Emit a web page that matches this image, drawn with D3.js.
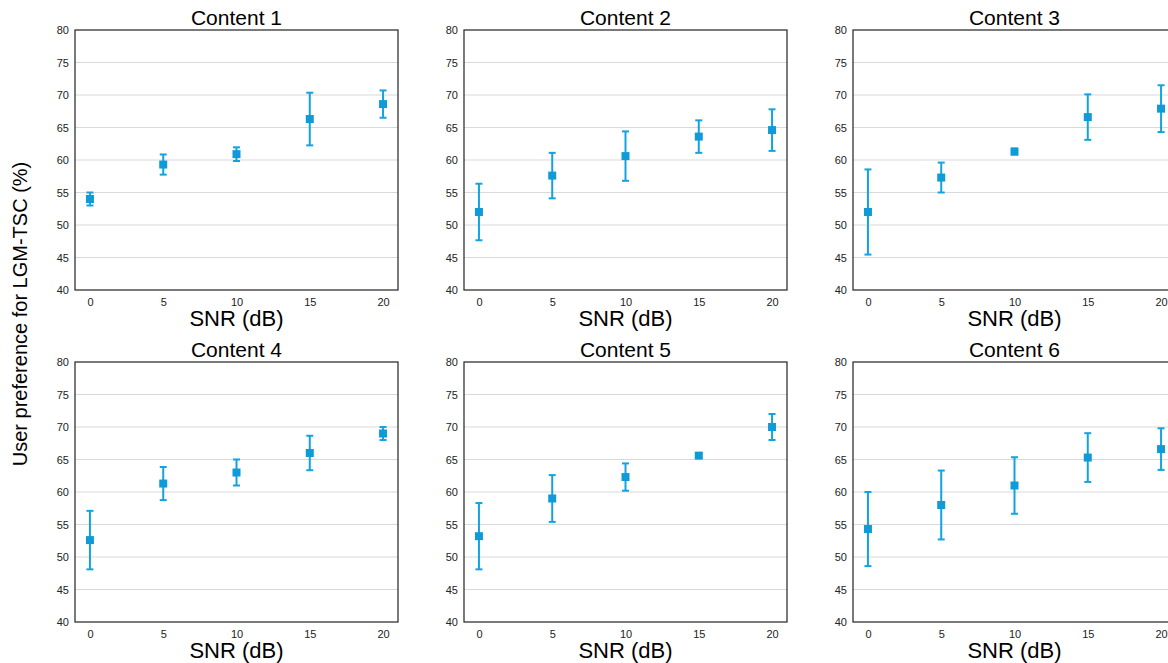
<!DOCTYPE html>
<html>
<head>
<meta charset="utf-8">
<script src="https://cdn.jsdelivr.net/npm/d3@7"></script>
<style>
  body { margin: 0; background: #fff; }
  svg { display: block; font-family: "Liberation Sans", Arial, sans-serif; }
</style>
</head>
<body>
<div id="chart"></div>
<script>
// SNR levels and tick labels
const snr = [0, 5, 10, 15, 20];
const yTicks = [40, 45, 50, 55, 60, 65, 70, 75, 80];
const titles = ["Content 1", "Content 2", "Content 3", "Content 4", "Content 5", "Content 6"];

// mean preference per content (%)
const content1 = [54.0, 59.3, 60.9, 66.3, 68.6];
const content2 = [52.0, 57.6, 60.6, 63.6, 64.6];
const content3 = [52.0, 57.3, 61.3, 66.6, 67.9];
const content4 = [52.6, 61.3, 63.0, 66.0, 69.0];
const content5 = [53.2, 59.0, 62.3, 65.6, 70.0];
const content6 = [54.3, 58.0, 61.0, 65.3, 66.6];

// half-width of error bars
const err1 = [1.0, 1.55, 1.05, 4.05, 2.1];
const err2 = [4.35, 3.5, 3.8, 2.5, 3.2];
const err3 = [6.55, 2.3, 0.45, 3.5, 3.6];
const err4 = [4.5, 2.55, 2.0, 2.65, 1.0];
const err5 = [5.1, 3.6, 2.1, 0.35, 2.0];
const err6 = [5.7, 5.3, 4.35, 3.75, 3.2];

const means = [content1, content2, content3, content4, content5, content6];
const errs = [err1, err2, err3, err4, err5, err6];

const W = 1168, H = 663;
const pw = 323, ph = 260;
const lefts = [75, 464, 853];
const tops = [30, 362];
const blue = "#0f9bd7";

const svg = d3.select("#chart").append("svg")
  .attr("width", W).attr("height", H);

const x = d3.scaleLinear().domain([-1.02, 21.02]).range([0, pw]);
const y = d3.scaleLinear().domain([40, 80]).range([ph, 0]);

titles.forEach((t, i) => {
  const col = i % 3, row = Math.floor(i / 3);
  const g = svg.append("g")
    .attr("transform", `translate(${lefts[col]},${tops[row]})`);

  // grid
  g.append("g")
    .selectAll("line")
    .data(yTicks.filter(v => v > 40 && v < 80))
    .join("line")
    .attr("x1", 0).attr("x2", pw)
    .attr("y1", d => y(d)).attr("y2", d => y(d))
    .attr("stroke", "#d9d9d9").attr("stroke-width", 1);

  // y axis labels
  const ya = g.append("g").call(d3.axisLeft(y).tickValues(yTicks).tickSize(0).tickPadding(6));
  ya.select(".domain").remove();
  ya.selectAll("text").attr("font-size", 11).attr("fill", "#222")
    .attr("font-family", "Liberation Sans, Arial, sans-serif");

  // x axis labels
  const xa = g.append("g").attr("transform", `translate(0,${ph})`)
    .call(d3.axisBottom(x).tickValues(snr).tickSize(0).tickPadding(8));
  xa.select(".domain").remove();
  xa.selectAll("text").attr("font-size", 11).attr("fill", "#222")
    .attr("font-family", "Liberation Sans, Arial, sans-serif");

  // frame
  g.append("rect")
    .attr("x", 0).attr("y", 0).attr("width", pw).attr("height", ph)
    .attr("fill", "none").attr("stroke", "#222").attr("stroke-width", 1.2);

  const pts = snr.map((s, j) => ({ s, m: means[i][j], e: errs[i][j] }));

  // error bars
  const eb = g.append("g").attr("stroke", "#13a3e2").attr("stroke-width", 2);
  eb.selectAll("line.v").data(pts).join("line").attr("class", "v")
    .attr("x1", d => x(d.s)).attr("x2", d => x(d.s))
    .attr("y1", d => y(d.m + d.e)).attr("y2", d => y(d.m - d.e));
  eb.selectAll("line.t").data(pts).join("line").attr("class", "t")
    .attr("x1", d => x(d.s) - 3.5).attr("x2", d => x(d.s) + 3.5)
    .attr("y1", d => y(d.m + d.e)).attr("y2", d => y(d.m + d.e));
  eb.selectAll("line.b").data(pts).join("line").attr("class", "b")
    .attr("x1", d => x(d.s) - 3.5).attr("x2", d => x(d.s) + 3.5)
    .attr("y1", d => y(d.m - d.e)).attr("y2", d => y(d.m - d.e));

  // markers
  g.selectAll("rect.pt").data(pts).join("rect").attr("class", "pt")
    .attr("x", d => x(d.s) - 4).attr("y", d => y(d.m) - 4)
    .attr("width", 8).attr("height", 8)
    .attr("fill", blue);

  // title
  g.append("text")
    .attr("x", pw / 2).attr("y", -5)
    .attr("text-anchor", "middle")
    .attr("font-size", 21).attr("fill", "#000")
    .text(t);

  // x label
  g.append("text")
    .attr("x", pw / 2).attr("y", ph + 36)
    .attr("text-anchor", "middle")
    .attr("font-size", 22).attr("fill", "#000")
    .text("SNR (dB)");
});

// shared y label
svg.append("text")
  .attr("transform", "translate(27,314) rotate(-90)")
  .attr("text-anchor", "middle")
  .attr("font-size", 20).attr("fill", "#000")
  .text("User preference for LGM-TSC (%)");
</script>
</body>
</html>
